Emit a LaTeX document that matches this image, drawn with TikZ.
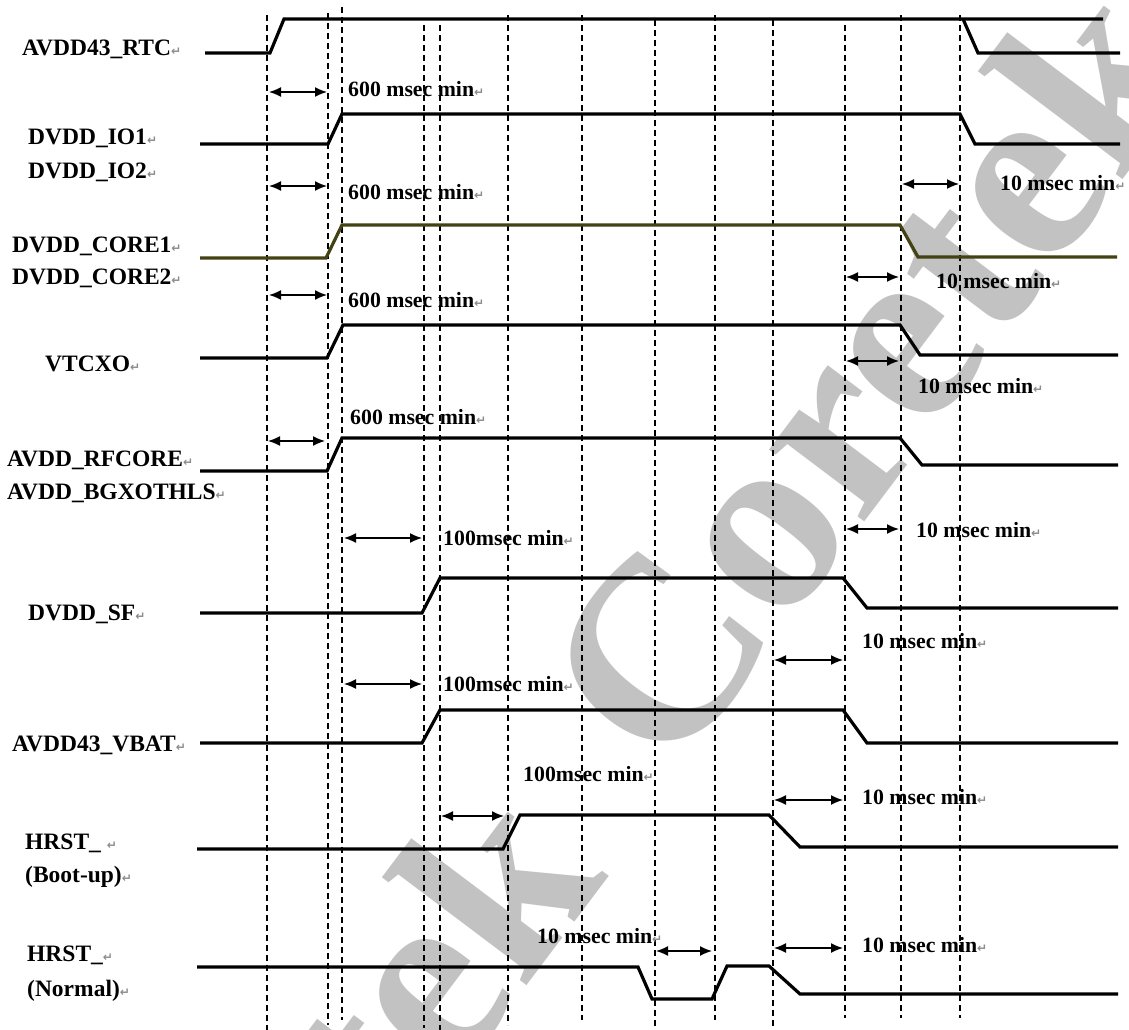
\documentclass[tikz,border=0pt]{standalone}
\usepackage{fontspec}
\setmainfont{Liberation Serif}
\newfontfamily\retfont{DejaVu Sans}
\usetikzlibrary{arrows.meta}
\definecolor{olivesig}{RGB}{66,66,18}
\definecolor{wmgray}{RGB}{194,194,194}
\definecolor{retgray}{RGB}{140,140,140}
\newcommand{\rmk}{{\retfont\fontsize{12}{12}\selectfont\textcolor{retgray}{↵}}}
\begin{document}
\begin{tikzpicture}[x=1pt,y=-1pt,
  sig/.style={line width=3.2pt, line join=miter},
  gridline/.style={dash pattern=on 6pt off 4pt, line width=1.6pt},
  tarrow/.style={{Latex[length=12pt,width=10pt]}-{Latex[length=12pt,width=10pt]}, line width=1.5pt},
  lbl/.style={anchor=base west, inner sep=0pt, font=\fontsize{23.5}{26}\selectfont\bfseries},
  tlbl/.style={anchor=base west, inner sep=0pt, font=\fontsize{21.8}{24}\selectfont\bfseries},
  wmark/.style={inner sep=0pt, text=wmgray, rotate=53, font=\fontsize{260}{260}\selectfont\bfseries}]
\useasboundingbox (0,0) rectangle (1129,1030);
\fill[white] (0,0) rectangle (1129,1030);
% watermark
\node[wmark] (wm1) at (866,372) {Coretek};
\node[wmark] (wm2) at (270,1178) {Coretek};
% dashed time markers
\foreach \x/\a/\b in {267/15/1030, 328/13/1025, 342/7/1020, 424/25/1028, 440/25/1030, 508/15/1025, 582/15/1020, 655/20/1030, 715/15/1020, 773/20/1030, 845/25/1018, 901/15/1018, 960/15/1018}
  \draw[gridline] (\x,\a) -- (\x,\b);
% signals
\draw[sig] (205,53) -- (270,53) -- (284,19) -- (1103,19);
\draw[sig] (963,19) -- (978,53) -- (1120,53);
\draw[sig] (200,144) -- (328,144) -- (342,114) -- (960,114) -- (975,144) -- (1120,144);
\draw[sig, olivesig] (200,258) -- (326,258) -- (342,225) -- (900,225) -- (918,257) -- (1117,257);
\draw[sig] (200,358) -- (327,358) -- (343,325) -- (900,325) -- (920,355) -- (1118,355);
\draw[sig] (200,471) -- (327,471) -- (342,438) -- (900,438) -- (922,465) -- (1118,465);
\draw[sig] (200,613) -- (422,613) -- (440,578) -- (843,578) -- (867,608) -- (1118,608);
\draw[sig] (200,743) -- (422,743) -- (440,710) -- (843,710) -- (867,743) -- (1118,743);
\draw[sig] (197,849) -- (503,849) -- (520,815) -- (769,815) -- (800,847) -- (1118,847);
\draw[sig] (197,967) -- (638,967) -- (652,999) -- (712,999) -- (727,966) -- (769,966) -- (800,994) -- (1118,994);
% timing arrows
\draw[tarrow] (269,92) -- (327,92);
\draw[tarrow] (269,186) -- (327,186);
\draw[tarrow] (269,295) -- (327,295);
\draw[tarrow] (268,441) -- (325,441);
\draw[tarrow] (344,538) -- (422,538);
\draw[tarrow] (344,684) -- (422,684);
\draw[tarrow] (441,816) -- (504,816);
\draw[tarrow] (656,951) -- (712,951);
\draw[tarrow] (902,184) -- (959,184);
\draw[tarrow] (846,277) -- (899,277);
\draw[tarrow] (846,361) -- (899,361);
\draw[tarrow] (846,529) -- (899,529);
\draw[tarrow] (774,660) -- (843,660);
\draw[tarrow] (774,800) -- (843,800);
\draw[tarrow] (774,948) -- (843,948);
% signal labels
\node[lbl] (l1) at (22,56) {AVDD43\_RTC\rmk};
\node[lbl] (l2) at (28,144) {DVDD\_IO1\rmk};
\node[lbl] (l3) at (28,178) {DVDD\_IO2\rmk};
\node[lbl] (l4) at (12,252) {DVDD\_CORE1\rmk};
\node[lbl] (l5) at (12,284) {DVDD\_CORE2\rmk};
\node[lbl] (l6) at (45,371) {VTCXO\rmk};
\node[lbl] (l7) at (7,466) {AVDD\_RFCORE\rmk};
\node[lbl] (l8) at (7,499) {AVDD\_BGXOTHLS\rmk};
\node[lbl] (l9) at (28,620) {DVDD\_SF\rmk};
\node[lbl] (l10) at (12,751) {AVDD43\_VBAT\rmk};
\node[lbl] (l11) at (25,849) {HRST\_ \rmk};
\node[lbl] (l12) at (25,882) {(Boot-up)\rmk};
\node[lbl] (l13) at (27,961) {HRST\_\rmk};
\node[lbl] (l14) at (27,996) {(Normal)\rmk};
% timing labels
\node[tlbl] (t1) at (348,97) {600 msec min\rmk};
\node[tlbl] (t2) at (348,199) {600 msec min\rmk};
\node[tlbl] (t3) at (348,307) {600 msec min\rmk};
\node[tlbl] (t4) at (350,424) {600 msec min\rmk};
\node[tlbl] (t5) at (443,545) {100msec min\rmk};
\node[tlbl] (t6) at (443,691) {100msec min\rmk};
\node[tlbl] (t7) at (523,781) {100msec min\rmk};
\node[tlbl] (t8) at (537,943) {10 msec min\rmk};
\node[tlbl] (t9) at (1000,190) {10 msec min\rmk};
\node[tlbl] (t10) at (936,288) {10 msec min\rmk};
\node[tlbl] (t11) at (918,393) {10 msec min\rmk};
\node[tlbl] (t12) at (916,537) {10 msec min\rmk};
\node[tlbl] (t13) at (862,648) {10 msec min\rmk};
\node[tlbl] (t14) at (862,804) {10 msec min\rmk};
\node[tlbl] (t15) at (862,952) {10 msec min\rmk};
\end{tikzpicture}
\end{document}
